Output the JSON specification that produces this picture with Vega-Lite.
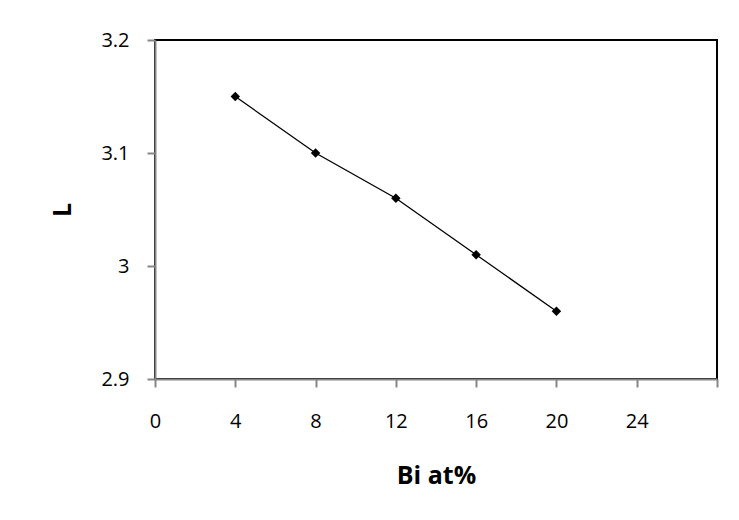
{
  "$schema": "https://vega.github.io/schema/vega-lite/v6.json",
  "autosize": "none",
  "width": 562,
  "height": 339,
  "padding": {"left": 155, "top": 40, "right": 22, "bottom": 141},
  "background": "white",
  "config": {
    "view": {"stroke": "black", "strokeWidth": 2},
    "font": "Open Sans",
    "axis": {
      "grid": false,
      "domainColor": "#868686",
      "domainWidth": 2,
      "tickColor": "#868686",
      "tickWidth": 2,
      "labelColor": "black",
      "labelFont": "Open Sans",
      "labelFontSize": 20,
      "titleColor": "black",
      "titleFont": "Open Sans",
      "titleFontSize": 25,
      "titleFontWeight": "bold",
      "zindex": 1
    }
  },
  "data": {
    "values": [
      {"Bi": 4, "L": 3.15},
      {"Bi": 8, "L": 3.10},
      {"Bi": 12, "L": 3.06},
      {"Bi": 16, "L": 3.01},
      {"Bi": 20, "L": 2.96}
    ]
  },
  "encoding": {
    "x": {
      "field": "Bi",
      "type": "quantitative",
      "scale": {"domain": [0, 28], "nice": false, "zero": false},
      "axis": {
        "title": "Bi at%",
        "values": [0, 4, 8, 12, 16, 20, 24, 28],
        "labelExpr": "datum.value == 28 ? '' : datum.label",
        "tickSize": 8,
        "labelPadding": 24,
        "labelFlush": false,
        "labelOverlap": false,
        "titleY": 104,
        "titleBaseline": "alphabetic"
      }
    },
    "y": {
      "field": "L",
      "type": "quantitative",
      "scale": {"domain": [2.9, 3.2], "nice": false, "zero": false},
      "axis": {
        "title": "L",
        "values": [2.9, 3.0, 3.1, 3.2],
        "format": "~g",
        "tickSize": 8,
        "labelPadding": 18,
        "labelFlush": false,
        "labelOverlap": false,
        "titleX": -85,
        "titleY": 169.5,
        "titleAngle": -90,
        "titleAlign": "center",
        "titleBaseline": "alphabetic"
      }
    }
  },
  "layer": [
    {"mark": {"type": "line", "color": "black", "strokeWidth": 1.3}},
    {"mark": {"type": "point", "shape": "diamond", "filled": true, "color": "black", "size": 90, "opacity": 1}}
  ]
}
